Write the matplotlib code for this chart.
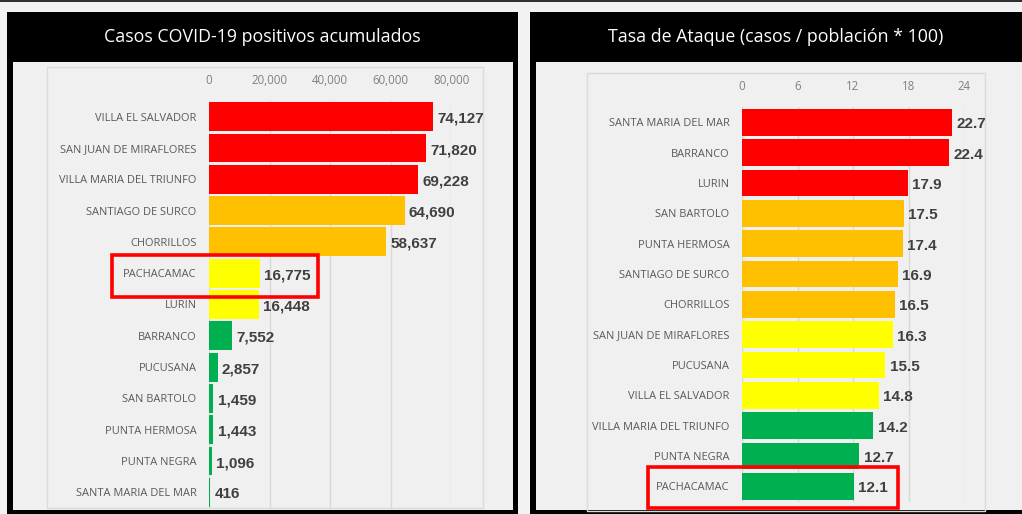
import matplotlib
matplotlib.use("Agg")
import matplotlib.pyplot as plt
from matplotlib.patches import Rectangle
from matplotlib import font_manager

# ---------------- data ----------------
left_title = "Casos COVID-19 positivos acumulados"
left_cats = ["VILLA EL SALVADOR", "SAN JUAN DE MIRAFLORES", "VILLA MARIA DEL TRIUNFO",
             "SANTIAGO DE SURCO", "CHORRILLOS", "PACHACAMAC", "LURIN", "BARRANCO",
             "PUCUSANA", "SAN BARTOLO", "PUNTA HERMOSA", "PUNTA NEGRA", "SANTA MARIA DEL MAR"]
left_vals = [74127, 71820, 69228, 64690, 58637, 16775, 16448, 7552, 2857, 1459, 1443, 1096, 416]
left_levels = ["r", "r", "r", "o", "o", "y", "y", "g", "g", "g", "g", "g", "g"]
left_ticks = [0, 20000, 40000, 60000, 80000]

right_title = "Tasa de Ataque (casos / población * 100)"
right_cats = ["SANTA MARIA DEL MAR", "BARRANCO", "LURIN", "SAN BARTOLO", "PUNTA HERMOSA",
              "SANTIAGO DE SURCO", "CHORRILLOS", "SAN JUAN DE MIRAFLORES", "PUCUSANA",
              "VILLA EL SALVADOR", "VILLA MARIA DEL TRIUNFO", "PUNTA NEGRA", "PACHACAMAC"]
right_vals = [22.7, 22.4, 17.9, 17.5, 17.4, 16.9, 16.5, 16.3, 15.5, 14.8, 14.2, 12.7, 12.1]
right_levels = ["r", "r", "r", "o", "o", "o", "o", "y", "y", "y", "g", "g", "g"]
right_ticks = [0, 6, 12, 18, 24]

highlight = "PACHACAMAC"
level_colors = {"r": "#FF0000", "o": "#FFC000", "y": "#FFFF00", "g": "#00B050"}

# ---------------- fonts ----------------
avail = {f.name for f in font_manager.fontManager.ttflist}
narrow = "Liberation Sans Narrow" if "Liberation Sans Narrow" in avail else "Liberation Sans"
title_font = "Open Sans" if "Open Sans" in avail else "DejaVu Sans"
cat_font = "Open Sans" if "Open Sans" in avail else "DejaVu Sans"

W, H = 1022, 514
fig = plt.figure(figsize=(W / 100, H / 100), dpi=100)
fig.patch.set_facecolor("#F2F2F2")


def frect(x0, y0, x1, y1, z=-5, **kw):
    r = Rectangle((x0 / W, 1 - y1 / H), (x1 - x0) / W, (y1 - y0) / H,
                  transform=fig.transFigure, zorder=z, **kw)
    fig.patches.append(r)
    return r


def fax(x0, y0, x1, y1):
    return fig.add_axes([x0 / W, 1 - y1 / H, (x1 - x0) / W, (y1 - y0) / H])


# top dark line
frect(0, 0, W, 2, facecolor="#303030", edgecolor="none")


def panel(px0, px1, title, tx, plot_box, ax_box, cats, vals, levels, ticks, xmax,
          fmt, vfmt, hbar, hl_box):
    # black frame + title bar
    frect(px0, 12, px1, 514, z=-6, facecolor="black", edgecolor="none")
    frect(px0 + 6, 62, px1 - 5, 510, z=-5, facecolor="#F0F0F0", edgecolor="none")
    fig.text(tx / W, 1 - 37 / H, title, color="white", fontsize=12.8,
             family=title_font, ha="center", va="center")
    # plot area border
    bx0, by0, bx1, by1 = plot_box
    frect(bx0, by0, bx1, by1, z=-4, facecolor="none", edgecolor="#DADADA", linewidth=1)

    ax = fax(*ax_box)
    ax.set_zorder(2)
    ax.set_facecolor("none")
    n = len(cats)
    y = list(range(n))
    colors = [level_colors[l] for l in levels]
    ax.barh(y, vals, height=hbar, color=colors, zorder=3)
    ax.set_ylim(n - 0.5, -0.5)
    ax.set_xlim(0, xmax)
    ax.set_xticks(ticks)
    ax.set_xticklabels([fmt(t) for t in ticks])
    ax.xaxis.tick_top()
    ax.tick_params(axis="x", length=0, pad=10, labelsize=8.3, labelcolor="#808080")
    for lab in ax.get_xticklabels():
        lab.set_family(cat_font)
    ax.set_yticks(y)
    ax.set_yticklabels(cats)
    ax.tick_params(axis="y", length=0, pad=9, labelsize=7.9, labelcolor="#595959")
    for lab in ax.get_yticklabels():
        lab.set_family(cat_font)
    ax.grid(axis="x", color="#D9D9D9", linewidth=1, zorder=0)
    ax.set_axisbelow(True)
    for s in ax.spines.values():
        s.set_visible(False)
    for yi, v in zip(y, vals):
        ax.annotate(vfmt(v), (v, yi),
                    xytext=(3, -1.5), textcoords="offset points", va="center", ha="left",
                    fontsize=11, fontweight="bold", color="#404040", family=narrow,
                    annotation_clip=False)
    hx0, hy0, hx1, hy1 = hl_box
    frect(hx0, hy0, hx1, hy1, z=10, facecolor="none", edgecolor="#FF0000", linewidth=2.6)
    return ax


panel(7, 518, left_title, 262, (47, 67, 483, 508), (209, 101, 451, 508),
      left_cats, left_vals, left_levels, left_ticks, 80000,
      lambda v: f"{v:,}", lambda v: f"{v:,}", 0.92, (112, 255, 318, 297))

panel(530, 1030, right_title, 776, (587, 73, 985, 511), (742, 107, 964, 501.5),
      right_cats, right_vals, right_levels, right_ticks, 24,
      lambda v: f"{v:g}", lambda v: f"{v:.1f}", 0.88, (648, 467, 898, 508))

fig.savefig("out.png", dpi=100, facecolor=fig.get_facecolor())
